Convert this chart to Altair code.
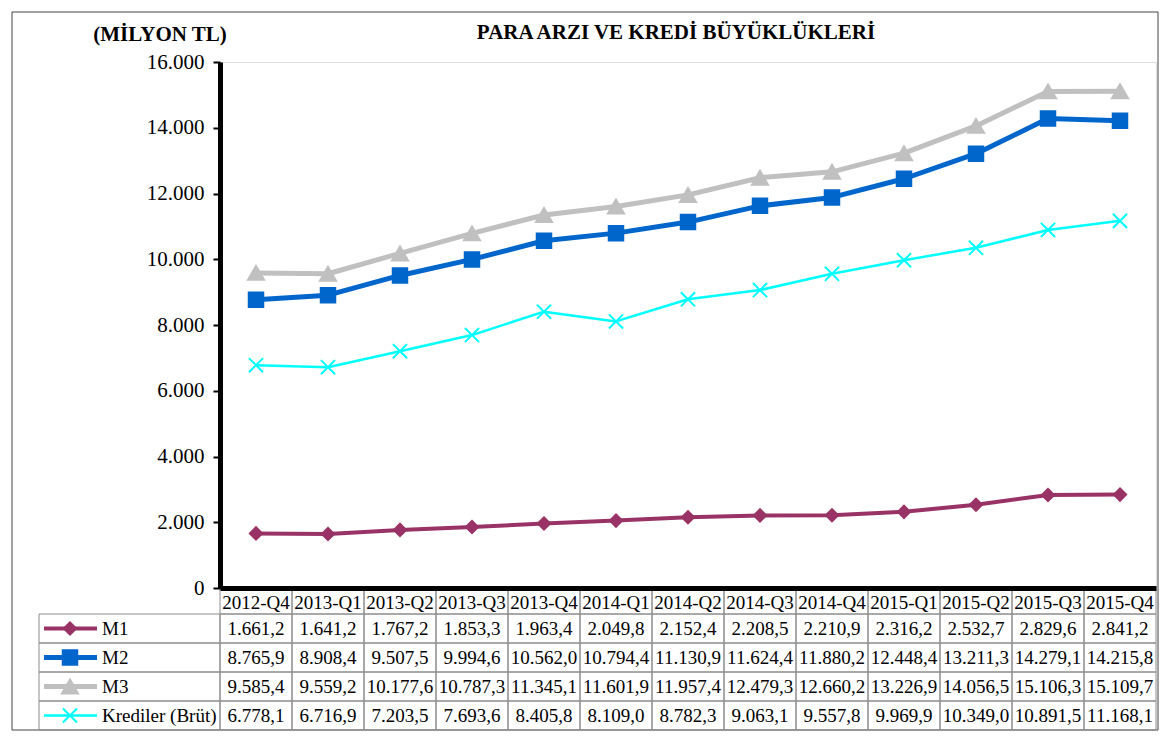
import altair as alt
import pandas as pd

quarters = ["2012-Q4", "2013-Q1", "2013-Q2", "2013-Q3", "2013-Q4", "2014-Q1", "2014-Q2",
            "2014-Q3", "2014-Q4", "2015-Q1", "2015-Q2", "2015-Q3", "2015-Q4"]
series_names = ["M1", "M2", "M3", "Krediler (Brüt)"]
m1 = [1661.2, 1641.2, 1767.2, 1853.3, 1963.4, 2049.8, 2152.4, 2208.5, 2210.9, 2316.2, 2532.7, 2829.6, 2841.2]
m2 = [8765.9, 8908.4, 9507.5, 9994.6, 10562.0, 10794.4, 11130.9, 11624.4, 11880.2, 12448.4, 13211.3, 14279.1, 14215.8]
m3 = [9585.4, 9559.2, 10177.6, 10787.3, 11345.1, 11601.9, 11957.4, 12479.3, 12660.2, 13226.9, 14056.5, 15106.3, 15109.7]
krediler = [6778.1, 6716.9, 7203.5, 7693.6, 8405.8, 8109.0, 8782.3, 9063.1, 9557.8, 9969.9, 10349.0, 10891.5, 11168.1]
y_ticks = [0, 2000, 4000, 6000, 8000, 10000, 12000, 14000, 16000]
title_text = "PARA ARZI VE KREDİ BÜYÜKLÜKLERİ"
unit_text = "(MİLYON TL)"

colors = ["#993366", "#0066CC", "#C0C0C0", "#00FFFF"]
shapes = ["diamond", "square", "triangle-up", "M-1,-1L1,1M-1,1L1,-1"]
widths = [4, 5, 5, 2.5]
sizes = [150, 210, 260, 200]
legend_sizes = [70, 90, 90, 90]


def tr_fmt(v):
    s = f"{v:,.1f}"
    return s.replace(",", "X").replace(".", ",").replace("X", ".")


rows = []
for name, vals in zip(series_names, [m1, m2, m3, krediler]):
    for q, v in zip(quarters, vals):
        rows.append({"quarter": q, "series": name, "value": v, "label": tr_fmt(v)})
df = pd.DataFrame(rows)
df_series = pd.DataFrame({"series": series_names})
df_q = pd.DataFrame({"quarter": quarters})

W = 936
H = 526
TOP = 552
BOT = 668
FONT = "Liberation Serif"

xscale = alt.Scale(type="band", domain=quarters, paddingInner=0, paddingOuter=0)
xaxis = alt.Axis(labels=False, ticks=False, domainWidth=5, domainColor="black",
                 title=None, grid=False, zindex=1)
cscale = alt.Scale(type="ordinal", domain=series_names, range=colors)
color = alt.Color("series:N", scale=cscale, legend=None)
shape = alt.Shape("series:N", scale=alt.Scale(type="ordinal", domain=series_names, range=shapes), legend=None)
swidth = alt.StrokeWidth("series:N", scale=alt.Scale(type="ordinal", domain=series_names, range=widths),
                         legend=None)
rowscale = alt.Scale(type="band", domain=series_names, range=[TOP, BOT], paddingInner=0, paddingOuter=0)

yscale = alt.Scale(domain=[0, 16000], nice=False)
yaxis = alt.Axis(values=y_ticks, format=",d", labelExpr="replace(datum.label, ',', '.')",
                 tickSize=7, tickWidth=2, tickColor="black", domainWidth=5, domainColor="black",
                 labelFont=FONT, labelFontSize=21, labelColor="black", labelPadding=9,
                 grid=False, title=None, zindex=1)

base = alt.Chart(df)

lines = base.mark_line(strokeJoin="round").encode(
    x=alt.X("quarter:N", scale=xscale, axis=xaxis, bandPosition=0.5),
    y=alt.Y("value:Q", scale=yscale, axis=yaxis),
    color=color, strokeWidth=swidth, detail="series:N",
)
points = base.mark_point(filled=False, strokeWidth=2, opacity=1).encode(
    x=alt.X("quarter:N", scale=xscale, axis=xaxis, bandPosition=0.5),
    y=alt.Y("value:Q", scale=yscale, axis=yaxis),
    stroke=alt.Stroke("series:N", scale=cscale, legend=None),
    fill=alt.Fill("series:N", scale=cscale, legend=None),
    shape=shape,
    size=alt.Size("series:N", scale=alt.Scale(type="ordinal", domain=series_names, range=sizes), legend=None),
)
plot = alt.layer(lines, points)

frame = alt.Chart(pd.DataFrame({"k": [0]})).mark_rect(
    fillOpacity=0, stroke="#444444", strokeWidth=1
).encode(x=alt.value(-208), x2=alt.value(W + 2), y=alt.value(-50), y2=alt.value(BOT))

cells = base.mark_rect(fillOpacity=0, stroke="#8c8c8c", strokeWidth=1).encode(
    x=alt.X("quarter:N", scale=xscale, axis=xaxis),
    y=alt.Y("series:N", scale=rowscale, axis=None),
)
cell_text = base.mark_text(font=FONT, fontSize=19, color="black", baseline="middle").encode(
    x=alt.X("quarter:N", scale=xscale, axis=xaxis, bandPosition=0.5),
    y=alt.Y("series:N", scale=rowscale, axis=None, bandPosition=0.5),
    text="label:N",
)
head_cells = alt.Chart(df_q).mark_rect(fillOpacity=0, stroke="#8c8c8c", strokeWidth=1).encode(
    x=alt.X("quarter:N", scale=xscale, axis=xaxis),
    y=alt.value(H), y2=alt.value(TOP),
)
head_text = alt.Chart(df_q).mark_text(font=FONT, fontSize=19, color="black", baseline="middle").encode(
    x=alt.X("quarter:N", scale=xscale, axis=xaxis, bandPosition=0.5),
    y=alt.value(541),
    text="quarter:N",
)
leg_cells = alt.Chart(df_series).mark_rect(fillOpacity=0, stroke="#8c8c8c", strokeWidth=1).encode(
    x=alt.value(-181), x2=alt.value(0),
    y=alt.Y("series:N", scale=rowscale, axis=None),
)
leg_rule = alt.Chart(df_series).mark_rule().encode(
    x=alt.value(-176), x2=alt.value(-123),
    y=alt.Y("series:N", scale=rowscale, axis=None, bandPosition=0.5),
    color=color, strokeWidth=swidth,
)
leg_pts = alt.Chart(df_series).mark_point(filled=False, strokeWidth=2, opacity=1).encode(
    x=alt.value(-150),
    y=alt.Y("series:N", scale=rowscale, axis=None, bandPosition=0.5),
    stroke=alt.Stroke("series:N", scale=cscale, legend=None),
    fill=alt.Fill("series:N", scale=cscale, legend=None),
    shape=shape,
    size=alt.Size("series:N", scale=alt.Scale(type="ordinal", domain=series_names, range=legend_sizes),
                  legend=None),
)
leg_text = alt.Chart(df_series).mark_text(font=FONT, fontSize=19, color="black", align="left",
                                           baseline="middle").encode(
    x=alt.value(-118),
    y=alt.Y("series:N", scale=rowscale, axis=None, bandPosition=0.5),
    text="series:N",
)
title = alt.Chart(pd.DataFrame({"t": [title_text]})).mark_text(
    font=FONT, fontSize=21, fontWeight="bold", color="black", align="center", baseline="middle"
).encode(x=alt.value(456), y=alt.value(-29), text="t:N")
unit = alt.Chart(pd.DataFrame({"t": [unit_text]})).mark_text(
    font=FONT, fontSize=21, fontWeight="bold", color="black", align="center", baseline="middle"
).encode(x=alt.value(-60), y=alt.value(-27), text="t:N")

chart = alt.layer(
    frame, head_cells, cells, leg_cells, plot, cell_text, head_text, leg_rule, leg_pts, leg_text,
    title, unit,
).resolve_scale(y="independent").properties(
    width=W, height=H,
    autosize=alt.AutoSizeParams(type="none"),
    padding={"left": 212, "top": 54, "right": 4, "bottom": BOT - H + 4},
).configure_view(stroke=None).configure(background="white")

chart.save("out.html", embed_options={"renderer": "svg", "actions": False})
